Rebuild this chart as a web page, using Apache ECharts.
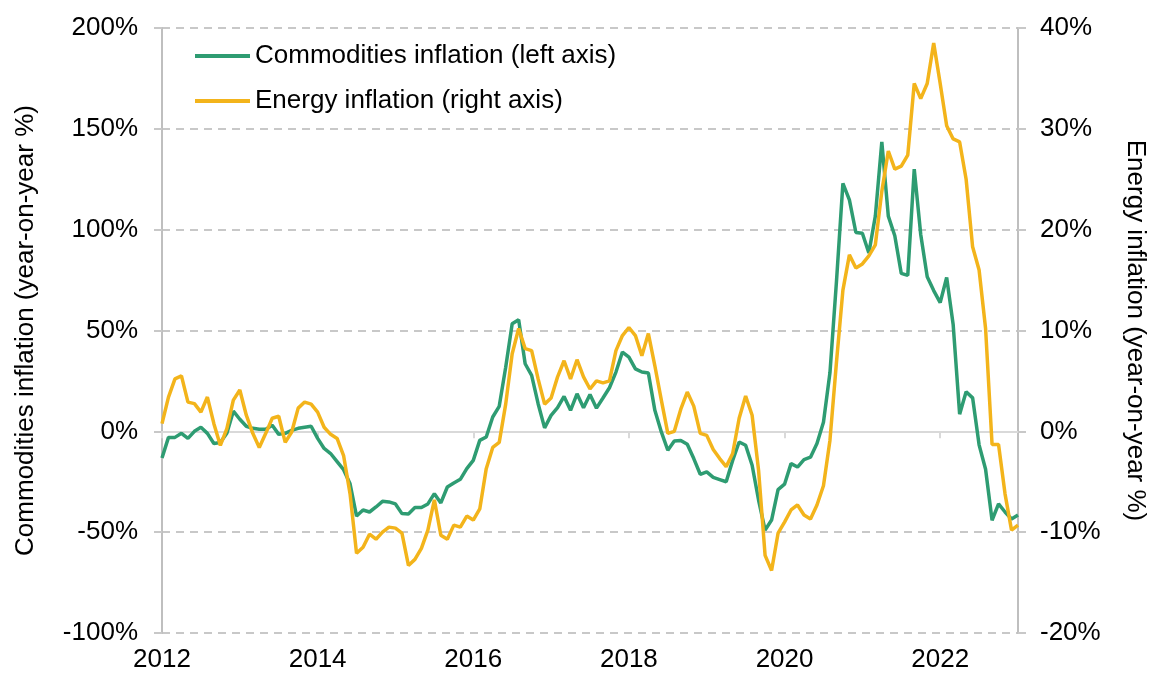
<!DOCTYPE html>
<html>
<head>
<meta charset="utf-8">
<script src="https://cdn.jsdelivr.net/npm/echarts@6/dist/echarts.min.js"></script>
<style>
  html, body { margin: 0; padding: 0; background: #fff; }
  #chart { width: 1151px; height: 677px; }
</style>
</head>
<body>
<div id="chart"></div>
<script>
// Monthly observations, January 2012 to January 2023
const startYear = 2012;
const monthCount = 133;
const months = [];
for (let i = 0; i < monthCount; i++) {
  const y = startYear + Math.floor(i / 12);
  const m = (i % 12) + 1;
  months.push(y + '-' + (m < 10 ? '0' + m : m));
}

// Commodities inflation, year-on-year % (left axis)
const commodities = [
  -13.2, -3, -3, -1, -3.5, 0, 2, -1, -6, -5.5, -1, 10,
  6, 2.5, 1.5, 1, 1, 3, -1.5, -1, 0.5, 1.5, 2, 2.5,
  -3.5, -8.5, -11, -15, -19, -26, -42, -39, -40, -37.5, -34.7, -35,
  -36, -40.8, -41, -37.8, -37.8, -36, -30.9, -35.5, -27.6, -25.6, -23.8, -18.5,
  -14.4, -4.5, -2.8, 7.1, 12.4, 31.8, 53.3, 55.3, 33.5, 27.7, 13.7, 1.7,
  7.9, 11.7, 17.3, 10.4, 18.6, 11.7, 18.3, 11.5, 16.5, 21.6, 29.4, 39.3,
  36.8, 31, 29.4, 28.9, 10.4, -0.3, -9.4, -4.8, -4.5, -6.4, -13.5, -21.3,
  -20.1, -22.8, -23.9, -25, -14.4, -5.3, -6.9, -16.8, -34.2, -49, -44, -28.9,
  -26.2, -16, -17.7, -14, -12.8, -6, 4.5, 29, 74, 123, 114.8, 98.6,
  98.2, 88.4, 106.7, 143.5, 106.7, 97, 78.3, 77.3, 130, 97.6, 76.7, 69.8,
  63.8, 76.3, 53, 8.5, 19.6, 16.6, -6.7, -18.8, -44.1, -36, -40, -43.5,
  -41.5
];

// Energy inflation, year-on-year % (right axis)
const energy = [
  0.76, 3.4, 5.2, 5.5, 2.9, 2.75, 1.9, 3.4, 0.76, -1.4, 0.26, 3.1,
  4.1, 1.6, -0.2, -1.6, -0.2, 1.3, 1.5, -1.1, -0.07, 2.3, 2.9, 2.7,
  1.9, 0.4, -0.3, -0.7, -2.4, -6.2, -12.1, -11.5, -10.2, -10.7, -10.0, -9.5,
  -9.6, -10.1, -13.3, -12.7, -11.6, -9.8, -6.8, -10.3, -10.7, -9.3, -9.5, -8.4,
  -8.8, -7.7, -3.7, -1.6, -1.1, 2.7, 7.7, 10.2, 8.2, 8.0, 5.2, 2.7,
  3.3, 5.4, 7.0, 5.2, 7.1, 5.4, 4.2, 5.0, 4.8, 5.0, 8.0, 9.5,
  10.3, 9.5, 7.5, 9.7, 6.5, 3.1, -0.2, 0, 2.2, 3.9, 2.5, -0.2,
  -0.4, -1.8, -2.7, -3.5, -2.2, 1.3, 3.5, 1.6, -3.9, -12.3, -13.8, -10.1,
  -9.0, -7.8, -7.3, -8.3, -8.7, -7.3, -5.4, -0.9, 6.8, 14.0, 17.5, 16.2,
  16.6, 17.4, 18.5, 23.8, 27.8, 26, 26.3, 27.4, 34.5, 33, 34.5, 38.5,
  34.5, 30.3, 29, 28.7, 25, 18.3, 16, 10.2, -1.3, -1.3, -6.2, -9.8,
  -9.3
];

const seriesNames = ['Commodities inflation (left axis)', 'Energy inflation (right axis)'];
const leftAxisTitle = 'Commodities inflation (year-on-year %)';
const rightAxisTitle = 'Energy inflation (year-on-year %)';
const leftTicks = { min: -100, max: 200, step: 50 };
const rightTicks = { min: -20, max: 40, step: 10 };
const yearLabelStep = 24; // a label every two years

const FONT = '"Liberation Sans", Arial, sans-serif';
const FS = 26;
const GREEN = '#2E9C72';
const YELLOW = '#F3B41B';
const GRID_GRAY = '#c8c8c8';
const AXIS_GRAY = '#bfbfbf';
const ZERO_GRAY = '#d9d9d9';

const chart = echarts.init(document.getElementById('chart'), null, { renderer: 'canvas' });

chart.setOption({
  animation: false,
  textStyle: { fontFamily: FONT, color: '#000' },
  grid: { left: 162, right: 133, top: 28, bottom: 44, containLabel: false, outerBoundsMode: 'none' },
  legend: {
    data: seriesNames,
    orient: 'vertical',
    left: 195,
    top: 43,
    padding: 0,
    icon: 'rect',
    itemWidth: 55,
    itemHeight: 4,
    itemGap: 19,
    textStyle: { fontFamily: FONT, fontSize: FS, color: '#000' }
  },
  xAxis: [
    {
      type: 'category',
      data: months,
      boundaryGap: false,
      axisLine: { show: true, onZero: true, lineStyle: { color: ZERO_GRAY, width: 2 } },
      axisTick: {
        show: true, length: 7,
        interval: function (i) { return i % yearLabelStep === 0; },
        lineStyle: { color: ZERO_GRAY, width: 2 }
      },
      axisLabel: { show: false },
      splitLine: { show: false }
    },
    {
      type: 'category',
      data: months,
      boundaryGap: false,
      position: 'bottom',
      axisLine: { show: false, onZero: false },
      axisTick: { show: false },
      axisLabel: {
        show: true,
        margin: 14,
        fontSize: FS,
        fontFamily: FONT,
        color: '#000',
        interval: function (i) { return i % yearLabelStep === 0; },
        formatter: function (v) { return v.slice(0, 4); }
      },
      splitLine: { show: false }
    }
  ],
  yAxis: [
    {
      type: 'value',
      position: 'left',
      min: leftTicks.min, max: leftTicks.max, interval: leftTicks.step,
      name: leftAxisTitle,
      nameLocation: 'middle',
      nameRotate: 90,
      nameGap: 123,
      nameTextStyle: { fontFamily: FONT, fontSize: FS, color: '#000' },
      axisLine: { show: true, lineStyle: { color: AXIS_GRAY, width: 2 } },
      axisTick: { show: true, length: 8, lineStyle: { color: GRID_GRAY, width: 2 } },
      axisLabel: { margin: 24, fontSize: FS, fontFamily: FONT, color: '#000', formatter: '{value}%' },
      splitLine: { show: true, lineStyle: { color: GRID_GRAY, width: 2, type: [8, 6] } }
    },
    {
      type: 'value',
      position: 'right',
      min: rightTicks.min, max: rightTicks.max, interval: rightTicks.step,
      name: rightAxisTitle,
      nameLocation: 'middle',
      nameRotate: -90,
      nameGap: 104,
      nameTextStyle: { fontFamily: FONT, fontSize: FS, color: '#000' },
      axisLine: { show: true, lineStyle: { color: AXIS_GRAY, width: 2 } },
      axisTick: { show: true, length: 8, lineStyle: { color: GRID_GRAY, width: 2 } },
      axisLabel: { margin: 22, fontSize: FS, fontFamily: FONT, color: '#000', formatter: '{value}%' },
      splitLine: { show: false }
    }
  ],
  series: [
    {
      name: seriesNames[0],
      type: 'line',
      xAxisIndex: 0,
      yAxisIndex: 0,
      data: commodities,
      symbol: 'none',
      lineStyle: { color: GREEN, width: 3.5 },
      itemStyle: { color: GREEN }
    },
    {
      name: seriesNames[1],
      type: 'line',
      xAxisIndex: 0,
      yAxisIndex: 1,
      data: energy,
      symbol: 'none',
      lineStyle: { color: YELLOW, width: 3.5 },
      itemStyle: { color: YELLOW }
    }
  ]
});
</script>
</body>
</html>
